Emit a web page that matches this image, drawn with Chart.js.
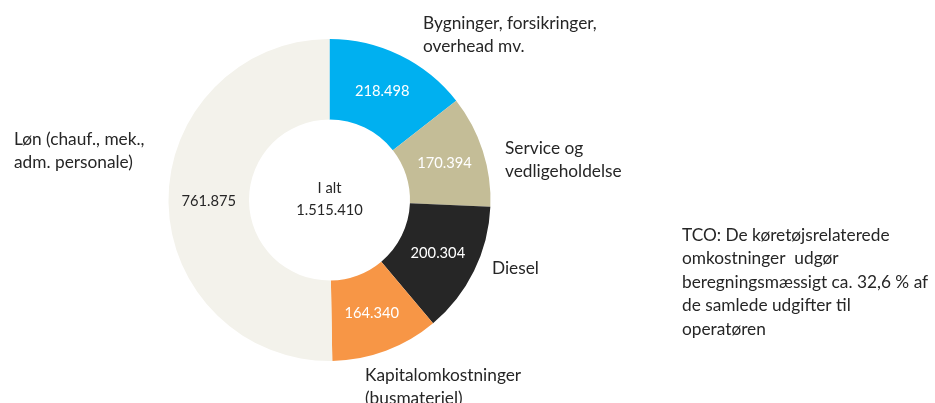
<!DOCTYPE html>
<html>
<head>
<meta charset="utf-8">
<script src="https://cdn.jsdelivr.net/npm/chart.js@4"></script>
<style>
  html, body { margin: 0; padding: 0; background: #fff; }
  #wrap { position: relative; width: 935px; height: 403px; }
</style>
</head>
<body>
<div id="wrap"><canvas id="tco" width="935" height="403"></canvas></div>
<script>
// data
const categories = [
  ['Bygninger, forsikringer,', 'overhead mv.'],
  ['Service og', 'vedligeholdelse'],
  ['Diesel'],
  ['Kapitalomkostninger', '(busmateriel)'],
  ['Løn (chauf., mek.,', 'adm. personale)']
];
const values = [218498, 170394, 200304, 164340, 761875];
const totalShown = 1515410;
const noteLines = [
  'TCO: De køretøjsrelaterede',
  'omkostninger  udgør',
  'beregningsmæssigt ca. 32,6 % af',
  'de samlede udgifter til',
  'operatøren'
];

// styles / layout
const colors = ['#00B0F0', '#C4BD97', '#262626', '#F79646', '#F3F2EB'];
const valueColors = ['#fff', '#fff', '#fff', '#fff', '#262626'];
const labelSpots = [[423, 23], [505, 148], [492, 268], [365, 375], [14, 139]];
const FONT = '17.3px Lato, "Open Sans", sans-serif';
const SMALL = '14.7px Lato, "Open Sans", sans-serif';
const LINE = 23.5;

function fmt(n) {
  return String(n).replace(/\B(?=(\d{3})+(?!\d))/g, '.');
}

const textPlugin = {
  id: 'texts',
  afterDatasetsDraw(chart) {
    const ctx = chart.ctx;
    const meta = chart.getDatasetMeta(0);
    ctx.save();
    ctx.textBaseline = 'middle';

    // values inside the ring
    ctx.font = SMALL;
    ctx.textAlign = 'center';
    meta.data.forEach((arc, i) => {
      const p = arc.tooltipPosition();
      ctx.fillStyle = valueColors[i];
      ctx.fillText(fmt(values[i]), p.x, p.y);
    });

    // centre total
    const c = meta.data[0];
    ctx.fillStyle = '#262626';
    ctx.fillText('I alt', c.x, c.y - 12);
    ctx.fillText(fmt(totalShown), c.x, c.y + 10);

    // category names around the ring
    ctx.font = FONT;
    ctx.textAlign = 'left';
    categories.forEach((lines, i) => {
      const [x, y] = labelSpots[i];
      lines.forEach((t, k) => ctx.fillText(t, x, y + k * LINE));
    });

    // side note
    noteLines.forEach((t, k) => ctx.fillText(t, 682, 235 + k * LINE));
    ctx.restore();
  }
};

new Chart(document.getElementById('tco'), {
  type: 'doughnut',
  data: {
    labels: categories.map(l => l.join(' ')),
    datasets: [{
      data: values,
      backgroundColor: colors,
      borderWidth: 0,
      hoverOffset: 0
    }]
  },
  options: {
    responsive: false,
    animation: false,
    cutout: '50%',
    layout: { padding: { left: 168.5, right: 444.5, top: 39, bottom: 42 } },
    plugins: { legend: { display: false }, tooltip: { enabled: false } },
    events: []
  },
  plugins: [textPlugin]
});
</script>
</body>
</html>
